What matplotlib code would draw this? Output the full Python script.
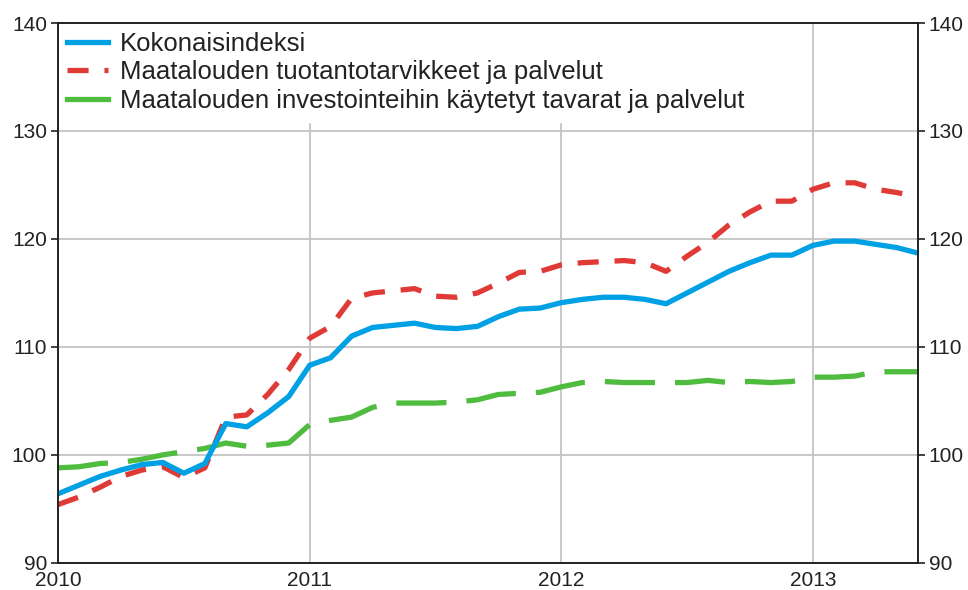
import numpy as np
import matplotlib
matplotlib.use("Agg")
import matplotlib.pyplot as plt
from matplotlib.lines import Line2D

# monthly index values, Jan 2010 - Jun 2013
start_year = 2010
kokonais = [96.4, 97.2, 98.0, 98.6, 99.1, 99.3, 98.3, 99.2, 102.9, 102.6,
            103.9, 105.4, 108.3, 109.0, 111.0, 111.8, 112.0, 112.2, 111.8, 111.7,
            111.9, 112.8, 113.5, 113.6, 114.1, 114.4, 114.6, 114.6, 114.4, 114.0,
            115.0, 116.0, 117.0, 117.8, 118.5, 118.5, 119.4, 119.8, 119.8, 119.5,
            119.2, 118.7]
tuotanto = [95.4, 96.1, 97.0, 98.0, 98.6, 98.9, 97.9, 98.8, 103.5, 103.7,
            105.6, 107.9, 110.8, 111.9, 114.5, 115.0, 115.2, 115.4, 114.7, 114.6,
            115.0, 115.9, 116.9, 117.0, 117.6, 117.8, 117.9, 118.0, 117.8, 117.0,
            118.4, 119.7, 121.3, 122.5, 123.5, 123.5, 124.6, 125.2, 125.2, 124.6,
            124.3, 123.9]
investointi = [98.8, 98.9, 99.2, 99.3, 99.6, 100.0, 100.3, 100.6, 101.1, 100.8,
               100.9, 101.1, 102.8, 103.2, 103.5, 104.4, 104.8, 104.8, 104.8, 104.9,
               105.1, 105.6, 105.7, 105.8, 106.3, 106.7, 106.8, 106.7, 106.7, 106.7,
               106.7, 106.9, 106.7, 106.8, 106.7, 106.8, 107.2, 107.2, 107.3, 107.7,
               107.7, 107.7]
labels = ["Kokonaisindeksi",
          "Maatalouden tuotantotarvikkeet ja palvelut",
          "Maatalouden investointeihin käytetyt tavarat ja palvelut"]
year_ticks = [2010, 2011, 2012, 2013]
y_ticks = [90, 100, 110, 120, 130, 140]

BLUE = "#00a0e4"
RED = "#e03a36"
GREEN = "#4fbb3f"
RED_DASH = (4.0, 3.0)
GREEN_DASH = (9.5, 3.8)

plt.rcParams["font.family"] = ["Liberation Sans", "DejaVu Sans"]

x = start_year + np.arange(len(kokonais)) / 12.0

fig = plt.figure(figsize=(9.68, 5.90), dpi=100)
ax = fig.add_axes([0.06, 0.046, 0.888, 0.915])

ax.plot(x, investointi, color=GREEN, lw=3.8, dashes=GREEN_DASH, zorder=3)
ax.plot(x, tuotanto, color=RED, lw=3.8, dashes=RED_DASH, zorder=4)
ax.plot(x, kokonais, color=BLUE, lw=3.8, zorder=5)

ax.set_xlim(x[0], x[-1])
ax.set_ylim(90, 140)
ax.set_xticks(year_ticks)
ax.set_xticklabels([str(y) for y in year_ticks])
ax.set_yticks(y_ticks)

ax.grid(True, color="#c4c4c4", lw=1.3)
ax.set_axisbelow(True)
for s in ax.spines.values():
    s.set_color("#222222")
    s.set_linewidth(1.4)
    s.set_zorder(10)

ax.tick_params(axis="y", which="both", left=True, right=True, labelleft=True,
               labelright=True, length=5, width=1.2, labelsize=15, pad=3,
               colors="#222222")
ax.tick_params(axis="x", length=0, labelsize=15, pad=6, colors="#222222")

handles = [Line2D([], [], color=BLUE, lw=3.8),
           Line2D([], [], color=RED, lw=3.8, dashes=RED_DASH),
           Line2D([], [], color=GREEN, lw=3.8)]
leg = ax.legend(handles, labels, loc="upper left", frameon=True, fancybox=False,
                framealpha=1, edgecolor="white", fontsize=18.5, handlelength=1.6,
                handletextpad=0.45, labelspacing=0.17, borderaxespad=0.0,
                borderpad=0.35)
for t in leg.get_texts():
    t.set_color("#222222")
leg.set_zorder(6)

fig.savefig("out.png", dpi=100)
